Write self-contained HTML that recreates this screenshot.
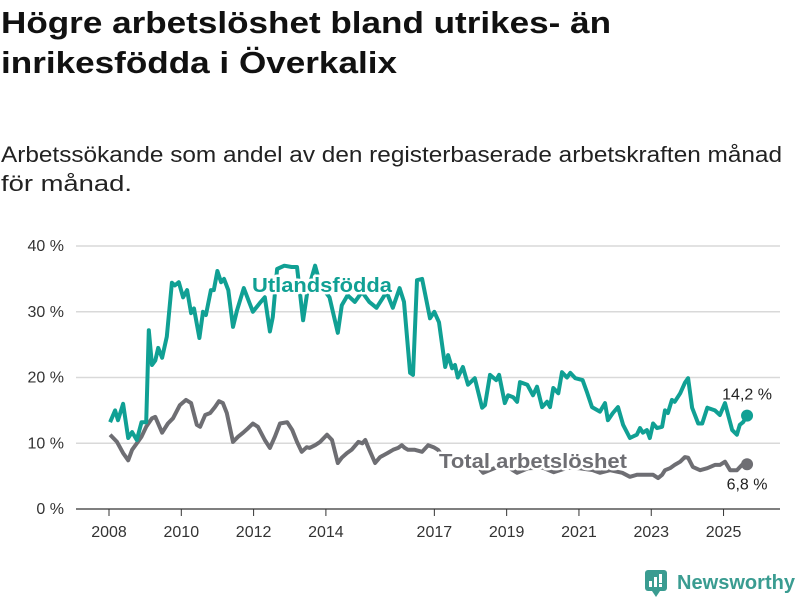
<!DOCTYPE html>
<html><head><meta charset="utf-8"><style>
body{margin:0;background:#fff;}
svg{display:block;font-family:"Liberation Sans",sans-serif;}
.halo{paint-order:stroke;stroke:#fff;stroke-width:5px;stroke-linejoin:round;}
</style></head><body>
<svg id="chart" width="800" height="600" viewBox="0 0 800 600">
<text x="1" y="33" font-size="31" font-weight="bold" fill="#111" textLength="610" lengthAdjust="spacingAndGlyphs">Högre arbetslöshet bland utrikes- än</text>
<text x="1" y="73" font-size="31" font-weight="bold" fill="#111" textLength="396" lengthAdjust="spacingAndGlyphs">inrikesfödda i Överkalix</text>
<text x="1" y="162" font-size="22" fill="#222" textLength="781" lengthAdjust="spacingAndGlyphs">Arbetssökande som andel av den registerbaserade arbetskraften månad</text>
<text x="1" y="191" font-size="22" fill="#222" textLength="131" lengthAdjust="spacingAndGlyphs">för månad.</text>
<g id="grid"></g><g id="xaxis"></g><g id="lines"></g><g id="labels"></g>
<g>
<rect x="645" y="570" width="22" height="21" rx="3" fill="#3a9c91"/>
<path d="M652 591 L656 597 L660 591Z" fill="#3a9c91"/>
<rect x="649" y="581" width="3" height="6" fill="#fff"/><rect x="654" y="577" width="3" height="10" fill="#fff"/><rect x="659" y="574" width="3" height="9" fill="#fff"/><rect x="659" y="584" width="3" height="3" fill="#fff"/>
<text x="677" y="589" font-size="20" font-weight="bold" fill="#3a9c91" textLength="118" lengthAdjust="spacingAndGlyphs">Newsworthy</text>
</g>
</svg>
<script>
const yTicks=[0,10,20,30,40];
const xTickYears=[2008,2010,2012,2014,2017,2019,2021,2023,2025];
const utlT=[2008.03,2008.17,2008.25,2008.39,2008.53,2008.64,2008.77,2008.9,2009.03,2009.1,2009.19,2009.28,2009.36,2009.47,2009.6,2009.74,2009.82,2009.93,2010.05,2010.16,2010.27,2010.35,2010.5,2010.6,2010.68,2010.82,2010.9,2011.0,2011.1,2011.18,2011.3,2011.43,2011.54,2011.73,2011.84,2011.98,2012.17,2012.31,2012.45,2012.53,2012.65,2012.85,2013.05,2013.2,2013.37,2013.48,2013.7,2013.85,2014.1,2014.33,2014.44,2014.6,2014.8,2015.0,2015.2,2015.4,2015.68,2015.85,2016.04,2016.16,2016.33,2016.41,2016.52,2016.66,2016.88,2017.0,2017.13,2017.3,2017.38,2017.49,2017.57,2017.65,2017.79,2017.93,2018.12,2018.32,2018.4,2018.54,2018.71,2018.79,2018.95,2019.04,2019.18,2019.29,2019.37,2019.57,2019.73,2019.84,2019.98,2020.12,2020.2,2020.29,2020.43,2020.53,2020.67,2020.76,2020.9,2021.1,2021.22,2021.36,2021.52,2021.58,2021.72,2021.8,2021.94,2022.08,2022.22,2022.41,2022.6,2022.69,2022.77,2022.88,2022.96,2023.05,2023.16,2023.3,2023.38,2023.46,2023.57,2023.65,2023.8,2023.93,2024.02,2024.13,2024.3,2024.41,2024.55,2024.76,2024.9,2025.04,2025.24,2025.37,2025.45,2025.54,2025.65];
const utlV=[13.2,15,13.5,16,10.8,11.7,10.5,13.2,13.2,27.2,21.9,22.6,24.5,23,26.2,34.4,34,34.5,32.2,33.3,29.8,30.5,26,30,29.5,33.3,33.3,36.2,34.5,35,33.3,27.7,30.2,33.6,32,30,31.3,32.2,27,29.2,36.5,37,36.8,36.8,28.7,32.8,37,34,32.2,26.8,31,32.5,31.5,33,31.5,30.6,33,30.6,33.6,31.5,20.7,20.4,34.8,35,29,30,28.4,21.6,23.4,21.4,21.9,20,21.6,18.9,19.9,15.4,15.8,20.4,19.6,20.4,16.1,17.3,17,16.3,19.3,18.9,17.3,18.6,15.5,16.3,15.5,18.4,17.6,20.8,20,20.7,19.9,19.6,17.8,15.5,15,14.8,16.1,13.5,14.6,15.5,12.8,10.8,11.3,12.3,11.6,12,10.8,13,12.3,12.5,15,14.6,16.6,16.3,17.6,19.2,19.9,15.4,13,13,15.4,15,14.3,16.1,12,11.3,12.8,13.2,14.2];
const totT=[2008.03,2008.22,2008.39,2008.53,2008.64,2008.77,2008.9,2009.03,2009.19,2009.28,2009.47,2009.63,2009.77,2009.96,2010.13,2010.27,2010.43,2010.52,2010.66,2010.8,2010.93,2011.04,2011.15,2011.26,2011.43,2011.57,2011.71,2011.85,2011.98,2012.12,2012.31,2012.45,2012.59,2012.73,2012.93,2013.07,2013.2,2013.33,2013.47,2013.55,2013.7,2013.84,2014.03,2014.17,2014.33,2014.44,2014.58,2014.71,2014.9,2015.01,2015.09,2015.17,2015.36,2015.5,2015.7,2015.86,2016.0,2016.1,2016.18,2016.27,2016.46,2016.66,2016.83,2016.98,2017.1,2017.3,2017.6,2017.9,2018.2,2018.35,2018.7,2019.0,2019.29,2019.6,2020.0,2020.3,2020.7,2021.0,2021.39,2021.58,2021.86,2022.2,2022.41,2022.6,2022.88,2023.05,2023.19,2023.3,2023.38,2023.52,2023.65,2023.8,2023.93,2024.02,2024.15,2024.35,2024.55,2024.76,2024.9,2025.04,2025.18,2025.37,2025.51,2025.65];
const totV=[11.3,10.2,8.5,7.4,9,10,11,12.5,13.8,14,11.6,13,13.8,15.8,16.6,16.1,12.8,12.5,14.3,14.6,15.5,16.4,16.1,14.6,10.2,11,11.6,12.3,13,12.5,10.5,9.3,11,13,13.2,12,10.2,8.7,9.4,9.3,9.7,10.2,11.3,10.5,7,7.8,8.5,9,10.2,10,10.5,9.4,7,7.9,8.5,9,9.3,9.7,9.3,9,9,8.7,9.7,9.4,9,7.5,7,6.8,6.5,5.5,6.3,6.5,5.5,6.2,6.3,5.6,6.3,6.2,5.9,5.5,5.9,5.5,4.9,5.2,5.2,5.2,4.7,5.2,5.9,6.2,6.7,7.2,7.9,7.8,6.4,5.9,6.2,6.7,6.7,7.2,5.9,5.9,6.7,6.8];
const NS="http://www.w3.org/2000/svg";
const x=t=>109+(t-2008)*36.15;
const y=v=>509-v*6.575;
function mk(tag,attrs,parent,txt){const e=document.createElementNS(NS,tag);for(const k in attrs)e.setAttribute(k,attrs[k]);if(txt!=null)e.textContent=txt;parent.appendChild(e);return e;}
const grid=document.getElementById('grid');
yTicks.forEach(v=>{
  const l=mk('line',{x1:76,x2:780,y1:y(v),y2:y(v),stroke:v===0?'#333':'#d9d9d9','stroke-width':v===0?1.2:1.5},grid);
  
  
  const t=mk('text',{x:64,y:y(v)+5,'text-anchor':'end','font-size':16,fill:'#333'},grid,v+' %');
  
  
});
const xa=document.getElementById('xaxis');
xTickYears.forEach(yr=>{
  const l=mk('line',{x1:x(yr),x2:x(yr),y1:509,y2:516,stroke:'#333','stroke-width':1},xa);
  
  
  const t=mk('text',{x:x(yr),y:537,'text-anchor':'middle','font-size':16,fill:'#333'},xa,String(yr));
  
  
});
const lines=document.getElementById('lines');
function series(T,V,color,name){
  const d=T.map((t,i)=>(i?'L':'M')+x(t).toFixed(1)+' '+y(V[i]).toFixed(1)).join(' ');
  const p=mk('path',{d:d,fill:'none',stroke:color,'stroke-width':4,'stroke-linejoin':'round'},lines);
  
  
  const n=T.length-1;
  const c=mk('circle',{cx:x(T[n]),cy:y(V[n]),r:6,fill:color},lines);
  
  
}
series(totT,totV,'#6e6e73','total');
series(utlT,utlV,'#10a094','utlandsfodda');
const lab=document.getElementById('labels');
const nU=utlT.length-1,nT=totT.length-1;
let e;
e=mk('text',{x:322,y:292,'text-anchor':'middle','font-size':20,'font-weight':'bold',fill:'#10a094',class:'halo',textLength:140,lengthAdjust:'spacingAndGlyphs'},lab,'Utlandsfödda');


e=mk('text',{x:533,y:468,'text-anchor':'middle','font-size':20,'font-weight':'bold',fill:'#6e6e73',class:'halo',textLength:188,lengthAdjust:'spacingAndGlyphs'},lab,'Total arbetslöshet');


e=mk('text',{x:x(utlT[nU]),y:y(utlV[nU])-16,'text-anchor':'middle','font-size':16,fill:'#222'},lab,'14,2 %');


e=mk('text',{x:x(totT[nT]),y:y(totV[nT])+25,'text-anchor':'middle','font-size':16,fill:'#222'},lab,'6,8 %');


</script>
</body></html>
